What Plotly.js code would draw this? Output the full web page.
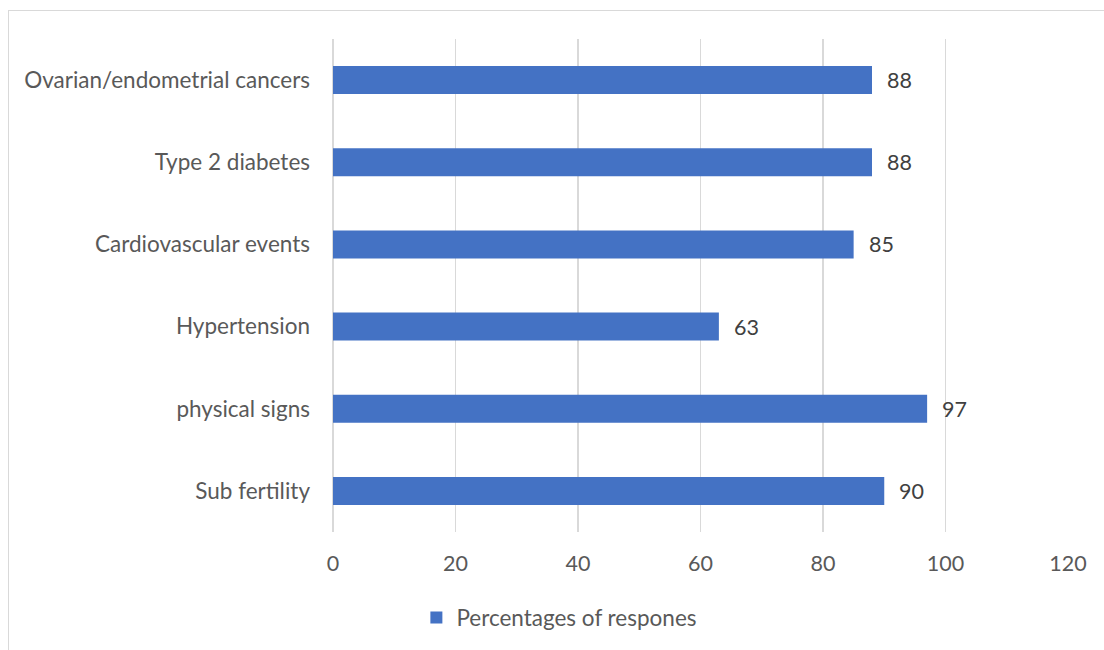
<!DOCTYPE html>
<html>
<head>
<meta charset="utf-8">
<script src="https://cdn.plot.ly/plotly-3.0.1.min.js"></script>
<style>
html,body{margin:0;padding:0;background:#fff;}
#frame{position:absolute;left:8px;top:10px;width:1120px;height:660px;border:1px solid #d9d9d9;box-sizing:border-box;}
#chart{position:absolute;left:0;top:0;width:1104px;height:650px;}
</style>
</head>
<body>
<div id="frame"></div>
<div id="chart"></div>
<script>
const categories = ["Ovarian/endometrial cancers","Type 2 diabetes","Cardiovascular events","Hypertension","physical signs","Sub fertility"];
const values = [88, 88, 85, 63, 97, 90];
const seriesName = "Percentages of respones";
const xTicks = [0, 20, 40, 60, 80, 100, 120];

const FONT = "Lato, 'Open Sans', sans-serif";
const FS = 22.5;

const trace = {
  type: "bar",
  orientation: "h",
  y: categories,
  x: values,
  name: seriesName,
  width: 0.34,
  marker: {color: "#4472c4"},
  hoverinfo: "x+y",
  cliponaxis: false
};

const annotations = categories.map((c, i) => ({
  x: values[i], y: c, xref: "x", yref: "y",
  text: String(values[i]),
  showarrow: false, xanchor: "left", xshift: 13,
  font: {family: FONT, size: 21.5, color: "#404040"}
}));

const layout = {
  width: 1104, height: 650,
  margin: {l: 333, r: 36, t: 39, b: 117, pad: 0},
  paper_bgcolor: "rgba(0,0,0,0)",
  plot_bgcolor: "rgba(0,0,0,0)",
  font: {family: FONT, size: FS, color: "#595959"},
  showlegend: true,
  legend: {
    orientation: "h", x: 0.308, xanchor: "center", y: -0.172, yanchor: "middle",
    font: {family: FONT, size: FS, color: "#595959"},
    itemwidth: 30, itemsizing: "constant"
  },
  xaxis: {
    range: [0, 120], tickvals: xTicks, ticktext: xTicks.map(String),
    showgrid: true, gridcolor: "#d9d9d9", gridwidth: 1.8,
    zeroline: true, zerolinecolor: "#d9d9d9", zerolinewidth: 1.8,
    showline: false, ticks: "", ticklabelstandoff: 16,
    tickfont: {family: FONT, size: 21.5, color: "#595959"},
    fixedrange: true
  },
  yaxis: {
    autorange: "reversed", type: "category",
    showgrid: false, zeroline: false, showline: false, ticks: "",
    ticklabelstandoff: 22,
    tickfont: {family: FONT, size: FS, color: "#595959"},
    fixedrange: true
  },
  annotations: annotations,
  bargap: 0.66
};

Plotly.newPlot("chart", [trace], layout, {displayModeBar: false, staticPlot: true});
</script>
</body>
</html>
